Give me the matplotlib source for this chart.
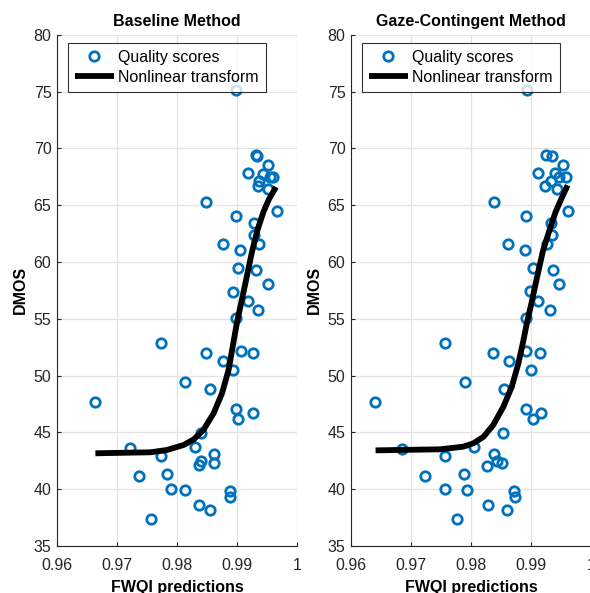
import matplotlib
matplotlib.use('Agg')
import matplotlib.pyplot as plt

plt.rcParams['font.family'] = ['Liberation Sans', 'DejaVu Sans']

# FWQI predictions / DMOS
base_x = [0.9898, 0.9931, 0.9933, 0.9952, 0.9918, 0.9943, 0.9955, 0.9960, 0.9937, 0.9935,
          0.9951, 0.9848, 0.9966, 0.9898, 0.9929, 0.9929, 0.9936, 0.9876, 0.9905, 0.9901,
          0.9932, 0.9951, 0.9893, 0.9918, 0.9935, 0.9898, 0.9774, 0.9848, 0.9906, 0.9927,
          0.9876, 0.9893, 0.9814, 0.9855, 0.9663, 0.9898, 0.9902, 0.9927, 0.9840, 0.9722,
          0.9830, 0.9774, 0.9862, 0.9840, 0.9862, 0.9837, 0.9737, 0.9784, 0.9790, 0.9814,
          0.9889, 0.9889, 0.9836, 0.9855, 0.9757]
base_y = [75.1, 69.4, 69.3, 68.55, 67.8, 67.75, 67.5, 67.5, 67.15, 66.7,
          66.45, 65.3, 64.45, 64.05, 63.4, 62.4, 61.6, 61.55, 61.05, 59.45,
          59.3, 58.05, 57.4, 56.6, 55.8, 55.05, 52.9, 51.95, 52.2, 51.95,
          51.3, 50.5, 49.4, 48.8, 47.7, 47.05, 46.2, 46.75, 44.95, 43.6,
          43.72, 42.9, 43.07, 42.5, 42.32, 42.1, 41.2, 41.3, 40.0, 39.93,
          39.83, 39.3, 38.65, 38.15, 37.4]

gaze_x = [0.9893, 0.9925, 0.9935, 0.9954, 0.9911, 0.9940, 0.9947, 0.9958, 0.9933, 0.9924,
          0.9944, 0.9838, 0.9962, 0.9891, 0.9933, 0.9935, 0.9926, 0.9861, 0.9890, 0.9903,
          0.9936, 0.9946, 0.9899, 0.9911, 0.9931, 0.9891, 0.9757, 0.9837, 0.9892, 0.9915,
          0.9863, 0.9900, 0.9790, 0.9855, 0.9640, 0.9892, 0.9903, 0.9917, 0.9854, 0.9685,
          0.9805, 0.9756, 0.9838, 0.9843, 0.9852, 0.9827, 0.9724, 0.9789, 0.9756, 0.9794,
          0.9871, 0.9873, 0.9829, 0.9860, 0.9777]
gaze_y = [75.1, 69.4, 69.3, 68.55, 67.8, 67.8, 67.5, 67.5, 67.1, 66.7,
          66.4, 65.3, 64.45, 64.05, 63.4, 62.4, 61.6, 61.55, 61.05, 59.45,
          59.3, 58.05, 57.45, 56.6, 55.8, 55.05, 52.9, 51.95, 52.2, 51.95,
          51.3, 50.5, 49.4, 48.8, 47.7, 47.05, 46.2, 46.75, 44.95, 43.57,
          43.72, 42.9, 43.07, 42.45, 42.35, 42.07, 41.2, 41.3, 40.0, 39.93,
          39.82, 39.3, 38.65, 38.15, 37.4]

# fitted curves, points
base_fit_x = [0.9664, 0.9756, 0.9783, 0.9811, 0.9828, 0.9844, 0.9861, 0.9875, 0.9886,
              0.9893, 0.9900, 0.9907, 0.9914, 0.9925, 0.9934, 0.9944, 0.9953, 0.9965]
base_fit_y = [43.16, 43.25, 43.45, 43.89, 44.39, 45.21, 46.68, 48.44, 50.5,
              52.6, 54.7, 56.4, 58.13, 60.9, 62.8, 64.4, 65.5, 66.6]
gaze_fit_x = [0.9641, 0.9748, 0.9787, 0.9804, 0.9821, 0.9837, 0.9854, 0.9868, 0.9879,
              0.9887, 0.9893, 0.9900, 0.9909, 0.9920, 0.9932, 0.9941, 0.9950, 0.9961]
gaze_fit_y = [43.42, 43.51, 43.74, 44.04, 44.62, 45.65, 47.26, 49.02, 51.08,
              53.0, 54.6, 56.2, 58.4, 61.0, 63.0, 64.4, 65.5, 66.75]

xticks = [0.96, 0.97, 0.98, 0.99, 1.0]
xticklabels = ['0.96', '0.97', '0.98', '0.99', '1']
yticks = [35, 40, 45, 50, 55, 60, 65, 70, 75, 80]

fs = 11.5
fig = plt.figure(figsize=(5.9, 5.93), dpi=100)
W, H = 590.0, 593.0
panels = [
    (57, 'Baseline Method', base_x, base_y, base_fit_x, base_fit_y),
    (351, 'Gaze-Contingent Method', gaze_x, gaze_y, gaze_fit_x, gaze_fit_y),
]
for left, title, px, py, fx, fy in panels:
    ax = fig.add_axes([left / W, 1 - 546 / H, 240 / W, 511.2 / H])
    ax.plot(px, py, 'o', ms=6.8, mfc='none', mec='#0072BD', mew=2.0,
            label='Quality scores', zorder=3)
    ax.plot(fx, fy, color='black', lw=4.2, solid_capstyle='butt',
            solid_joinstyle='round', label='Nonlinear transform', zorder=4)
    ax.set_xlim(0.96, 1.0)
    ax.set_ylim(35, 80)
    ax.set_xticks(xticks)
    ax.set_xticklabels(xticklabels)
    ax.set_yticks(yticks)
    ax.grid(True, color='#e3e3e3', lw=0.9)
    ax.set_axisbelow(True)
    for s in ['top', 'right']:
        ax.spines[s].set_visible(False)
    for s in ['left', 'bottom']:
        ax.spines[s].set_color('#262626')
        ax.spines[s].set_linewidth(0.8)
    ax.tick_params(direction='in', length=3, width=0.8, colors='#262626',
                   labelsize=fs, labelcolor='#262626')
    ax.tick_params(axis='x', pad=9)
    ax.tick_params(axis='y', pad=4)
    ax.set_title(title, fontsize=fs, fontweight='bold', pad=6)
    ax.set_xlabel('FWQI predictions', fontsize=fs, fontweight='bold', labelpad=5)
    ax.set_ylabel('DMOS', fontsize=fs, fontweight='bold', labelpad=4)
    leg = ax.legend(loc='upper left', bbox_to_anchor=(0.045, 0.984), fontsize=fs,
                    frameon=True, fancybox=False, edgecolor='black',
                    handlelength=2.5, handletextpad=0.25, borderpad=0.42,
                    labelspacing=0.32, borderaxespad=0.0, numpoints=1)
    leg.get_frame().set_linewidth(0.8)

plt.savefig('out.png', dpi=100)
